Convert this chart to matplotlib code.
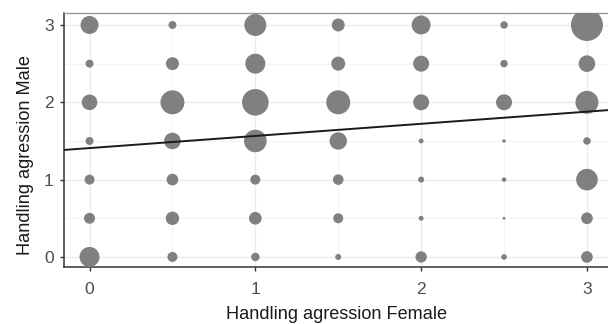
import matplotlib
matplotlib.use("Agg")
import matplotlib.pyplot as plt
import numpy as np

# Data
x_levels = [0, 0.5, 1, 1.5, 2, 2.5, 3]
y_levels = [0, 0.5, 1, 1.5, 2, 2.5, 3]
# counts[row for y][col for x] (bubble area proportional to count)
counts = [
    [100, 25, 18, 9, 32, 8, 34],      # y = 0
    [30, 45, 40, 25, 6, 2, 34],       # y = 0.5
    [25, 34, 25, 28, 9, 5, 117],      # y = 1
    [16, 69, 128, 76, 6, 3, 14],      # y = 1.5
    [61, 144, 177, 144, 64, 64, 132], # y = 2
    [16, 42, 100, 49, 64, 14, 69],    # y = 2.5
    [81, 16, 121, 42, 90, 14, 256],   # y = 3
]
fit_intercept = 1.408
fit_slope = 0.157

plt.rcParams['font.family'] = ['Liberation Sans', 'DejaVu Sans']

fig = plt.figure(figsize=(6.08, 3.24), dpi=100)
ax = fig.add_axes([64/608, 57/324, 1 - 64/608, (267-13)/324])

xs, ys, cs = [], [], []
for i, yv in enumerate(y_levels):
    for j, xv in enumerate(x_levels):
        xs.append(xv); ys.append(yv); cs.append(counts[i][j])
cs = np.array(cs, dtype=float)
ax.scatter(xs, ys, s=cs * 2.07, color='#808080', edgecolors='none', zorder=3)

xlim = (-0.154, 3.127)
ylim = (-0.13, 3.155)
xl = np.array(xlim)
ax.plot(xl, fit_intercept + fit_slope * xl, color='#1a1a1a', lw=1.4, zorder=4)

ax.set_xlim(*xlim)
ax.set_ylim(*ylim)
ax.set_xticks([0, 1, 2, 3])
ax.set_yticks([0, 1, 2, 3])
ax.set_xticks([0.5, 1.5, 2.5], minor=True)
ax.set_yticks([0.5, 1.5, 2.5], minor=True)
ax.grid(True, which='major', color='#ebebeb', lw=1.0, zorder=0)
ax.grid(True, which='minor', color='#f4f4f4', lw=0.8, zorder=0)
ax.tick_params(which='minor', length=0)
ax.tick_params(which='major', length=3, width=1, color='#333333', labelsize=12.5,
               labelcolor='#4d4d4d')
ax.tick_params(axis='x', which='major', pad=7.5)
ax.tick_params(axis='y', which='major', pad=4.5)
for s in ['left', 'bottom']:
    ax.spines[s].set_color('#333333')
    ax.spines[s].set_linewidth(1.1)
ax.spines['top'].set_color('#999999')
ax.spines['top'].set_linewidth(1.0)
ax.spines['right'].set_visible(False)
ax.set_axisbelow(True)

ax.set_xlabel('Handling agression Female', fontsize=13.1, color='#1a1a1a', labelpad=6.5)
ax.set_ylabel('Handling agression Male', fontsize=13.1, color='#1a1a1a')
ax.yaxis.set_label_coords((34 - 64) / 544, (267 - 155) / 254)

fig.savefig('out.png', dpi=100)
